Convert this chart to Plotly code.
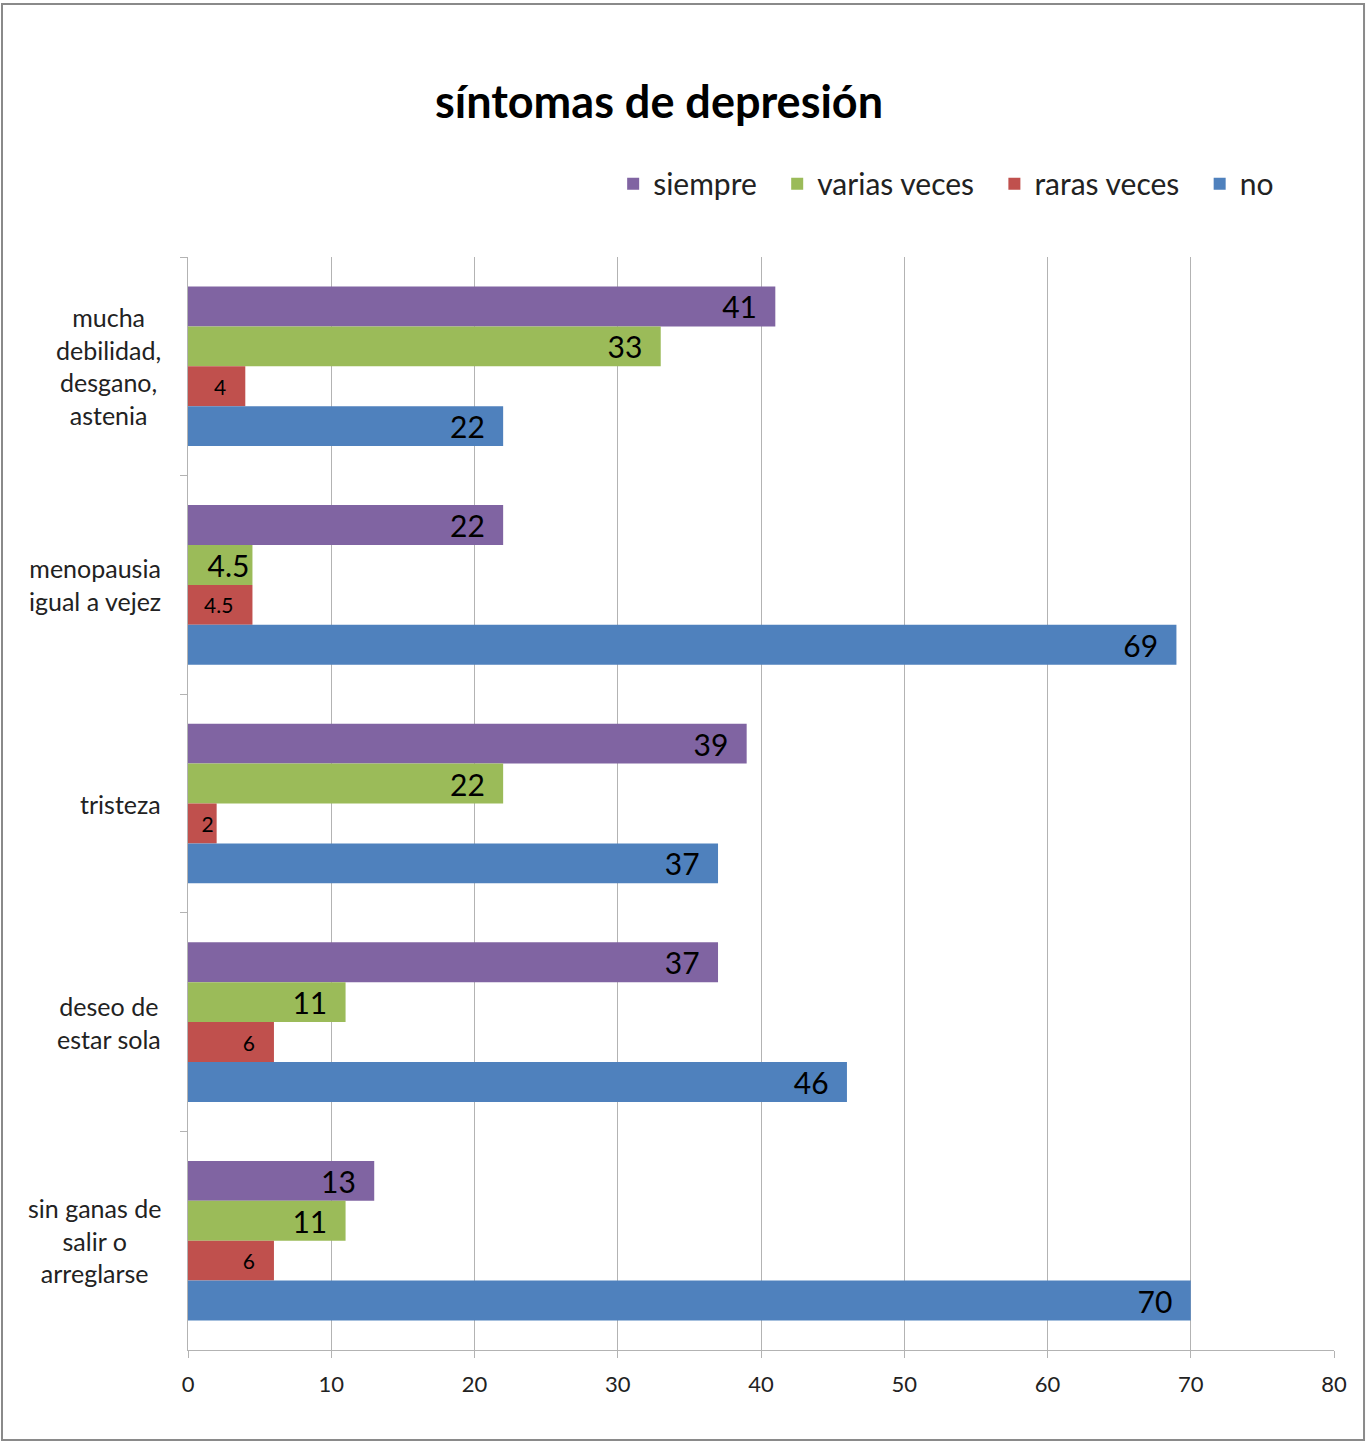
import plotly.graph_objects as go

categories = [
    "mucha<br>debilidad,<br>desgano,<br>astenia",
    "menopausia<br>igual a vejez",
    "tristeza",
    "deseo de<br>estar sola",
    "sin ganas de<br>salir o<br>arreglarse",
]
series_names = ["siempre", "varias veces", "raras veces", "no"]
siempre = [41, 22, 39, 37, 13]
varias_veces = [33, 4.5, 22, 11, 11]
raras_veces = [4, 4.5, 2, 6, 6]
no = [22, 69, 37, 46, 70]
x_ticks = [0, 10, 20, 30, 40, 50, 60, 70, 80]

colors = ["#8064A2", "#9BBB59", "#C0504D", "#4F81BD"]
label_sizes = [30, 30, 21, 30]
FONT = "Lato, 'Open Sans', sans-serif"
NB = "\u00a0"


def label(v, size):
    # Excel-like padding from bar end when the label fits comfortably
    if size >= 28:
        pad = NB * 2 if v >= 8 else ""
    else:
        pad = NB * 3 if v >= 4 else ""
    return f"{v:g}{pad}"


fig = go.Figure()
for i, (name, vals, col, ls) in enumerate(zip(series_names, [siempre, varias_veces, raras_veces, no], colors, label_sizes)):
    legend_name = name + (NB * 2 if i < len(series_names) - 1 else "")
    fig.add_trace(go.Bar(
        y=categories, x=vals, name=legend_name, orientation="h",
        marker=dict(color=col, line=dict(width=0)),
        text=[label(v, ls) for v in vals], textposition="inside", textangle=0,
        insidetextanchor="end", constraintext="none",
        textfont=dict(color="black", size=ls, family=FONT),
        hovertemplate=name + ": %{x}<extra></extra>",
    ))

# category labels: right-aligned block, centered lines
for c in categories:
    fig.add_annotation(
        x=-0.0218, xref="paper", y=c, yref="y", text=c, showarrow=False,
        xanchor="right", yanchor="middle", align="center",
        font=dict(size=25, color="#222", family=FONT),
    )

# outer frame
fig.add_shape(type="rect", xref="paper", yref="paper",
              x0=-0.1623, x1=1.0262, y0=-0.0823, y1=1.2315,
              line=dict(color="#8a8a8a", width=2), fillcolor="rgba(0,0,0,0)", layer="above")

fig.update_layout(
    width=1366, height=1442,
    margin=dict(l=188, r=32, t=257, b=92),
    paper_bgcolor="white", plot_bgcolor="white",
    barmode="group", bargap=0.27, bargroupgap=0,
    font=dict(family=FONT, color="#222"),
    title=dict(text="<b>síntomas de depresión</b>", x=0.411, xref="paper", xanchor="center",
               y=1 - 102 / 1442, yref="container", yanchor="middle",
               font=dict(size=45, color="black", family=FONT)),
    legend=dict(orientation="h", x=0.371, xref="paper", y=1.067, yanchor="middle",
                xanchor="left", font=dict(size=30, color="#222", family=FONT),
                traceorder="normal", itemwidth=30),
    xaxis=dict(range=[0, 80], tickvals=x_ticks, showgrid=True, gridcolor="#b3b3b3", gridwidth=1,
               showline=True, linecolor="#b3b3b3", linewidth=1, ticks="outside", ticklen=7,
               tickcolor="#b3b3b3", tickfont=dict(size=22, color="#222"), zeroline=False,
               ticklabelstandoff=8),
    yaxis=dict(autorange="reversed", showline=True, linecolor="#b3b3b3", linewidth=1,
               ticks="outside", tickson="boundaries", ticklen=7, tickcolor="#b3b3b3",
               showticklabels=False, showgrid=False),
)

fig.write_html("out.html")
